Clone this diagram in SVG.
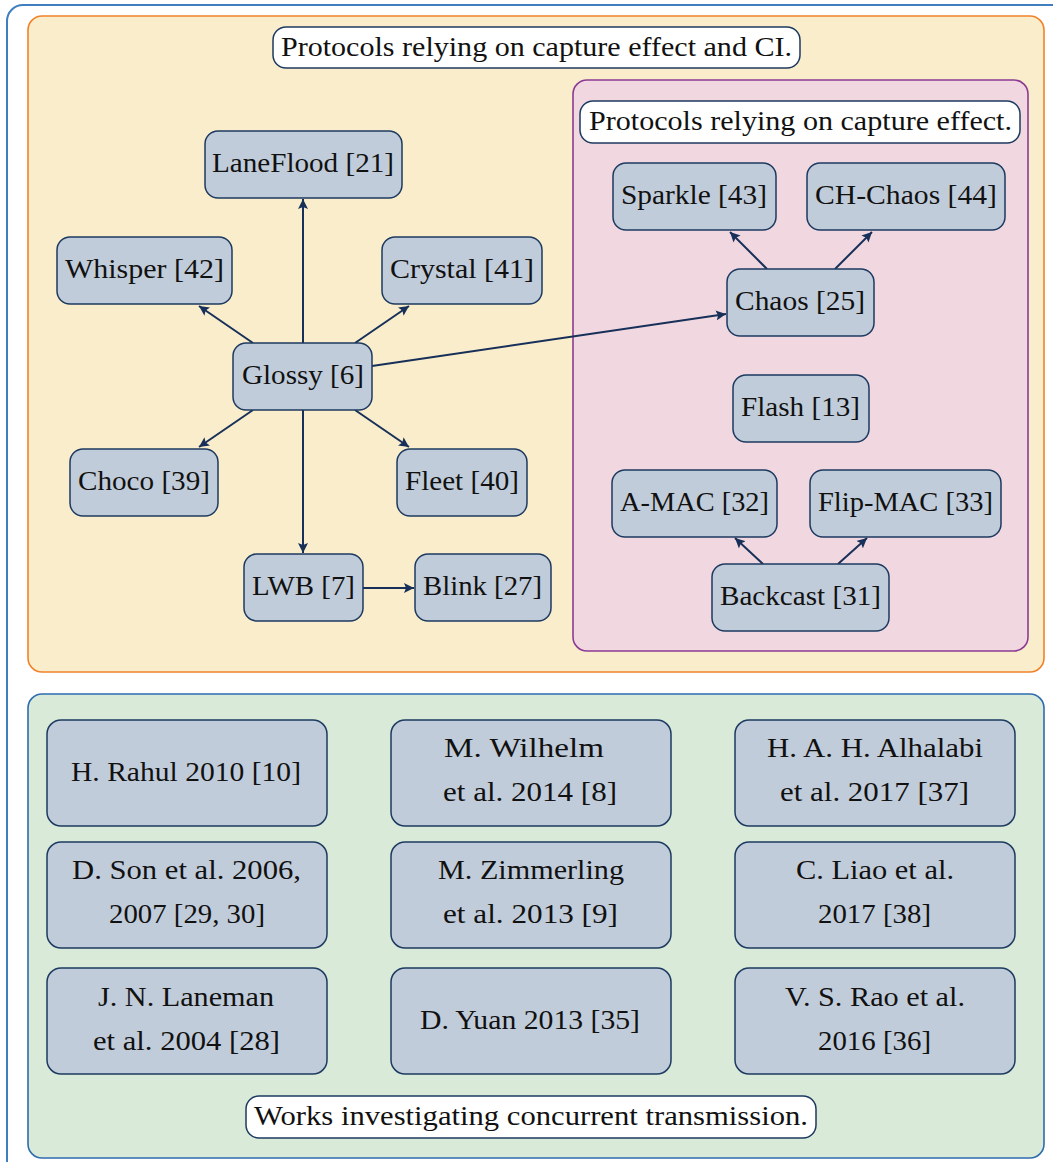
<svg xmlns="http://www.w3.org/2000/svg" width="1053" height="1162" viewBox="0 0 1053 1162">
  <defs>
    <marker id="arrow" viewBox="0 0 10 10" refX="10" refY="5" markerWidth="10" markerHeight="10" markerUnits="userSpaceOnUse" orient="auto">
      <path d="M0,0 L10,5 L0,10 L2,5 Z" fill="#17305a"/>
    </marker>
    <style>
      .node rect { fill: #c1ccda; stroke: #1d3a60; stroke-width: 1.5; }
      .label rect { fill: #ffffff; stroke: #1d3a60; stroke-width: 1.5; }
      text { font-family: Liberation Serif, DejaVu Serif, serif; font-size: 27px; fill: #111111; text-anchor: middle; }
      .edge { stroke: #17305a; stroke-width: 2; fill: none; marker-end: url(#arrow); }
    </style>
  </defs>

  <rect x="0" y="0" width="1053" height="1162" fill="#ffffff"/>

  <!-- outer frame -->
  <rect x="7" y="5" width="1070" height="1180" rx="16" fill="none" stroke="#3f7fc0" stroke-width="2"/>

  <!-- capture effect + CI region -->
  <rect x="28" y="16" width="1016" height="656" rx="14" fill="#faedcb" stroke="#f0832a" stroke-width="1.6"/>
  <g id="title-ci" class="label">
    <rect x="273" y="27" width="527" height="41" rx="13"/>
    <text x="536.5" y="56" textLength="511" lengthAdjust="spacingAndGlyphs">Protocols relying on capture effect and CI.</text>
  </g>

  <!-- capture effect region -->
  <rect x="573" y="80" width="455" height="571" rx="14" fill="#f1d7e0" stroke="#8c3b94" stroke-width="1.6"/>
  <g id="title-capture" class="label">
    <rect x="580" y="101" width="440" height="42" rx="13"/>
    <text x="800.5" y="130" textLength="423" lengthAdjust="spacingAndGlyphs">Protocols relying on capture effect.</text>
  </g>

  <!-- connectors -->
  <g id="connectors">
    <line class="edge" x1="303" y1="343" x2="303" y2="199"/>
    <line class="edge" x1="253" y1="343" x2="199" y2="306"/>
    <line class="edge" x1="355" y1="343" x2="409" y2="306"/>
    <line class="edge" x1="253" y1="410" x2="199" y2="447"/>
    <line class="edge" x1="355" y1="410" x2="409" y2="447"/>
    <line class="edge" x1="303" y1="410" x2="303" y2="553"/>
    <line class="edge" x1="363" y1="588" x2="414" y2="588"/>
    <line class="edge" x1="372" y1="366" x2="726" y2="314"/>
    <line class="edge" x1="767" y1="269" x2="730" y2="232"/>
    <line class="edge" x1="835" y1="269" x2="872" y2="232"/>
    <line class="edge" x1="763" y1="564" x2="735" y2="538"/>
    <line class="edge" x1="838" y1="564" x2="867" y2="538"/>
  </g>

  <!-- protocol nodes -->
  <g id="laneflood" class="node"><rect x="205" y="131" width="197" height="67" rx="13"/><text x="303" y="172" textLength="182" lengthAdjust="spacingAndGlyphs">LaneFlood [21]</text></g>
  <g id="whisper" class="node"><rect x="57" y="237" width="175" height="67" rx="13"/><text x="144.5" y="278" textLength="159" lengthAdjust="spacingAndGlyphs">Whisper [42]</text></g>
  <g id="crystal" class="node"><rect x="382" y="237" width="160" height="67" rx="13"/><text x="462" y="278" textLength="144" lengthAdjust="spacingAndGlyphs">Crystal [41]</text></g>
  <g id="glossy" class="node"><rect x="233" y="343" width="139" height="67" rx="13"/><text x="303" y="384" textLength="122" lengthAdjust="spacingAndGlyphs">Glossy [6]</text></g>
  <g id="choco" class="node"><rect x="70" y="449" width="148" height="67" rx="13"/><text x="144" y="490" textLength="132" lengthAdjust="spacingAndGlyphs">Choco [39]</text></g>
  <g id="fleet" class="node"><rect x="397" y="449" width="130" height="67" rx="13"/><text x="462" y="490" textLength="114" lengthAdjust="spacingAndGlyphs">Fleet [40]</text></g>
  <g id="lwb" class="node"><rect x="244" y="554" width="119" height="67" rx="13"/><text x="303.5" y="595" textLength="103" lengthAdjust="spacingAndGlyphs">LWB [7]</text></g>
  <g id="blink" class="node"><rect x="415" y="554" width="136" height="67" rx="13"/><text x="482.5" y="595" textLength="119" lengthAdjust="spacingAndGlyphs">Blink [27]</text></g>

  <g id="sparkle" class="node"><rect x="613" y="163" width="163" height="67" rx="13"/><text x="694" y="204" textLength="146" lengthAdjust="spacingAndGlyphs">Sparkle [43]</text></g>
  <g id="ch-chaos" class="node"><rect x="807" y="163" width="198" height="67" rx="13"/><text x="906" y="204" textLength="182" lengthAdjust="spacingAndGlyphs">CH-Chaos [44]</text></g>
  <g id="chaos" class="node"><rect x="727" y="269" width="147" height="67" rx="13"/><text x="800" y="310" textLength="130" lengthAdjust="spacingAndGlyphs">Chaos [25]</text></g>
  <g id="flash" class="node"><rect x="733" y="375" width="136" height="67" rx="13"/><text x="800.5" y="416" textLength="119" lengthAdjust="spacingAndGlyphs">Flash [13]</text></g>
  <g id="a-mac" class="node"><rect x="612" y="470" width="165" height="67" rx="13"/><text x="694.5" y="511" textLength="149" lengthAdjust="spacingAndGlyphs">A-MAC [32]</text></g>
  <g id="flip-mac" class="node"><rect x="810" y="470" width="191" height="67" rx="13"/><text x="905.5" y="511" textLength="175" lengthAdjust="spacingAndGlyphs">Flip-MAC [33]</text></g>
  <g id="backcast" class="node"><rect x="712" y="564" width="177" height="67" rx="13"/><text x="800.5" y="605" textLength="161" lengthAdjust="spacingAndGlyphs">Backcast [31]</text></g>

  <!-- concurrent transmission region -->
  <rect x="28" y="694" width="1016" height="464" rx="14" fill="#d9ebd8" stroke="#2d6cae" stroke-width="1.6"/>

  <g id="rahul" class="node"><rect x="47" y="720" width="280" height="106" rx="14"/><text x="186" y="781" textLength="230" lengthAdjust="spacingAndGlyphs">H. Rahul 2010 [10]</text></g>
  <g id="wilhelm" class="node"><rect x="391" y="720" width="280" height="106" rx="14"/><text x="524" y="757" textLength="160" lengthAdjust="spacingAndGlyphs">M. Wilhelm</text><text x="530" y="801" textLength="174" lengthAdjust="spacingAndGlyphs">et al.  2014 [8]</text></g>
  <g id="alhalabi" class="node"><rect x="735" y="720" width="280" height="106" rx="14"/><text x="875" y="757" textLength="216" lengthAdjust="spacingAndGlyphs">H. A. H. Alhalabi</text><text x="874.5" y="801" textLength="189" lengthAdjust="spacingAndGlyphs">et al.  2017 [37]</text></g>

  <g id="son" class="node"><rect x="47" y="842" width="280" height="106" rx="14"/><text x="186.5" y="879" textLength="229" lengthAdjust="spacingAndGlyphs">D. Son et al.  2006,</text><text x="187" y="923" textLength="156" lengthAdjust="spacingAndGlyphs">2007 [29, 30]</text></g>
  <g id="zimmerling" class="node"><rect x="391" y="842" width="280" height="106" rx="14"/><text x="531" y="879" textLength="186" lengthAdjust="spacingAndGlyphs">M. Zimmerling</text><text x="530.5" y="923" textLength="175" lengthAdjust="spacingAndGlyphs">et al.  2013 [9]</text></g>
  <g id="liao" class="node"><rect x="735" y="842" width="280" height="106" rx="14"/><text x="875" y="879" textLength="158" lengthAdjust="spacingAndGlyphs">C. Liao et al.</text><text x="874.5" y="923" textLength="113" lengthAdjust="spacingAndGlyphs">2017 [38]</text></g>

  <g id="laneman" class="node"><rect x="47" y="968" width="280" height="106" rx="14"/><text x="186" y="1006" textLength="176" lengthAdjust="spacingAndGlyphs">J. N. Laneman</text><text x="186.5" y="1050" textLength="187" lengthAdjust="spacingAndGlyphs">et al.  2004 [28]</text></g>
  <g id="yuan" class="node"><rect x="391" y="968" width="280" height="106" rx="14"/><text x="530" y="1029" textLength="220" lengthAdjust="spacingAndGlyphs">D. Yuan 2013 [35]</text></g>
  <g id="rao" class="node"><rect x="735" y="968" width="280" height="106" rx="14"/><text x="875" y="1006" textLength="180" lengthAdjust="spacingAndGlyphs">V. S. Rao et al.</text><text x="874.5" y="1050" textLength="113" lengthAdjust="spacingAndGlyphs">2016 [36]</text></g>

  <g id="title-ct" class="label">
    <rect x="246" y="1096" width="570" height="42" rx="13"/>
    <text x="531" y="1125" textLength="554" lengthAdjust="spacingAndGlyphs">Works investigating concurrent transmission.</text>
  </g>
</svg>
